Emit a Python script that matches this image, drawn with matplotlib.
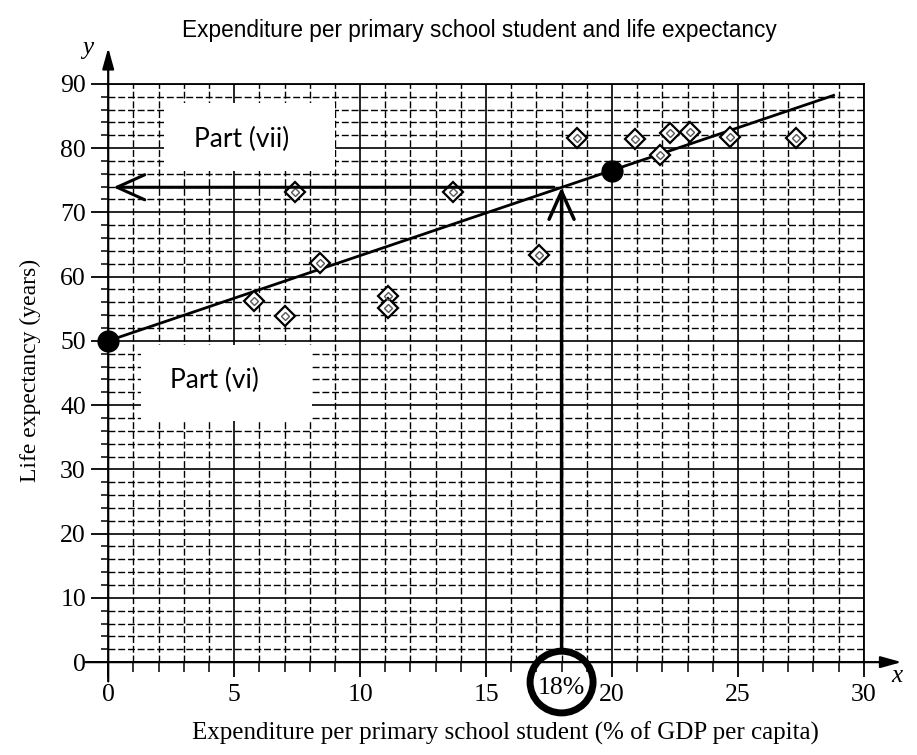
import matplotlib
matplotlib.use('Agg')
import matplotlib.pyplot as plt
from matplotlib.patches import Rectangle, Ellipse

spend = [5.8, 7.0, 7.4, 8.4, 11.1, 11.1, 13.7, 17.1, 18.6, 20.9, 21.9, 22.3, 23.1, 24.7, 27.3]
life = [56.2, 53.9, 73.2, 62.1, 57.0, 55.1, 73.2, 63.3, 81.5, 81.4, 78.9, 82.4, 82.5, 81.7, 81.5]

# line of best fit and the two plotted points on it
line_x = [0, 28.8]
line_y = [50, 88.2]
mark_x = [0, 20]
mark_y = [50, 76.4]

# read-off for 18%
read_x = 18
read_y = 73.9

x_ticks = [0, 5, 10, 15, 20, 25, 30]
y_ticks = [0, 10, 20, 30, 40, 50, 60, 70, 80, 90]

plt.rcParams['font.family'] = ['Liberation Serif', 'DejaVu Serif']

fig = plt.figure(figsize=(9.17, 7.55), dpi=100)
ax = fig.add_axes([0.118, 0.123, 0.824, 0.766])
ax.set_xlim(0, 30)
ax.set_ylim(0, 90)

ax.set_xticks(x_ticks)
ax.set_xticks(range(0, 31), minor=True)
ax.set_yticks(y_ticks)
ax.set_yticks(range(0, 91, 2), minor=True)
ax.set_axisbelow(True)
ax.grid(which='major', color='black', lw=1.2)
ax.grid(which='minor', color='black', lw=1.0, ls=(0, (5, 2)))
ax.tick_params(axis='x', which='major', length=11, width=1.3, pad=5, labelsize=18.5)
ax.tick_params(axis='x', which='minor', length=7, width=1.1)
ax.tick_params(axis='y', which='major', length=12, width=1.3, pad=4, labelsize=18.5)
ax.tick_params(axis='y', which='minor', length=5, width=1.1)
for s in ['left', 'bottom']:
    ax.spines[s].set_visible(False)
for s in ['top', 'right']:
    ax.spines[s].set_linewidth(1.3)

# axes with arrows
ax.annotate('', xy=(0, 95.6), xytext=(0, -3), annotation_clip=False,
            arrowprops=dict(arrowstyle='-|>,head_length=0.9,head_width=0.25',
                            color='black', lw=1.6, mutation_scale=14, shrinkA=0, shrinkB=0))
ax.annotate('', xy=(31.5, 0), xytext=(-0.9, 0), annotation_clip=False,
            arrowprops=dict(arrowstyle='-|>,head_length=0.9,head_width=0.25',
                            color='black', lw=1.6, mutation_scale=14, shrinkA=0, shrinkB=0))
ax.text(-0.6, 95.5, 'y', style='italic', fontsize=18, ha='right', va='center')
ax.text(31.3, -2.2, 'x', style='italic', fontsize=18, ha='center', va='center')

# white boxes with part labels
ax.add_patch(Rectangle((2.2, 76.4), 6.8, 10.6, fc='white', ec='none', zorder=1))
ax.add_patch(Rectangle((1.3, 37.6), 6.8, 11.8, fc='white', ec='none', zorder=1))
ax.text(5.3, 81.3, 'Part (vii)', fontsize=19, family='Lato', ha='center', va='center', zorder=2)
ax.text(4.2, 43.8, 'Part (vi)', fontsize=19, family='Lato', ha='center', va='center', zorder=2)

# best fit line and points
ax.plot(line_x, line_y, color='black', lw=2, zorder=3)
ax.plot(mark_x, mark_y, 'o', color='black', ms=15, clip_on=False, zorder=5)
ax.plot(spend, life, 'D', ms=10.5, mfc='white', mec='black', mew=1.6, zorder=4)
ax.plot(spend, life, 'D', ms=4, mfc='none', mec='0.35', mew=1, zorder=4)

# read-off arrows
ax.annotate('', xy=(read_x, read_y), xytext=(read_x, 2), annotation_clip=False,
            arrowprops=dict(arrowstyle='->,head_length=1.0,head_width=0.45',
                            color='black', lw=2.5, mutation_scale=20, shrinkA=0, shrinkB=0),
            zorder=6)
ax.annotate('', xy=(0.2, read_y), xytext=(read_x - 0.3, read_y), annotation_clip=False,
            arrowprops=dict(arrowstyle='->,head_length=1.0,head_width=0.45',
                            color='black', lw=2.2, mutation_scale=20, shrinkA=0, shrinkB=0),
            zorder=6)

# circled 18% on the axis
ax.text(read_x, -4.0, '18%', fontsize=18.5, ha='center', va='center')
ax.add_patch(Ellipse((read_x, -3.1), 2.5, 9.6, fill=False, ec='black', lw=5, clip_on=False))

fig.text(0.033, 0.51, 'Life expectancy (years)', rotation=90, fontsize=17,
         ha='center', va='center')
fig.text(0.551, 0.029, 'Expenditure per primary school student (% of GDP per capita)',
         fontsize=18, ha='center', va='center')
fig.text(0.523, 0.96, 'Expenditure per primary school student and life expectancy',
         fontsize=16.3, family='Liberation Sans', ha='center', va='center')

fig.savefig('out.png', dpi=100)
